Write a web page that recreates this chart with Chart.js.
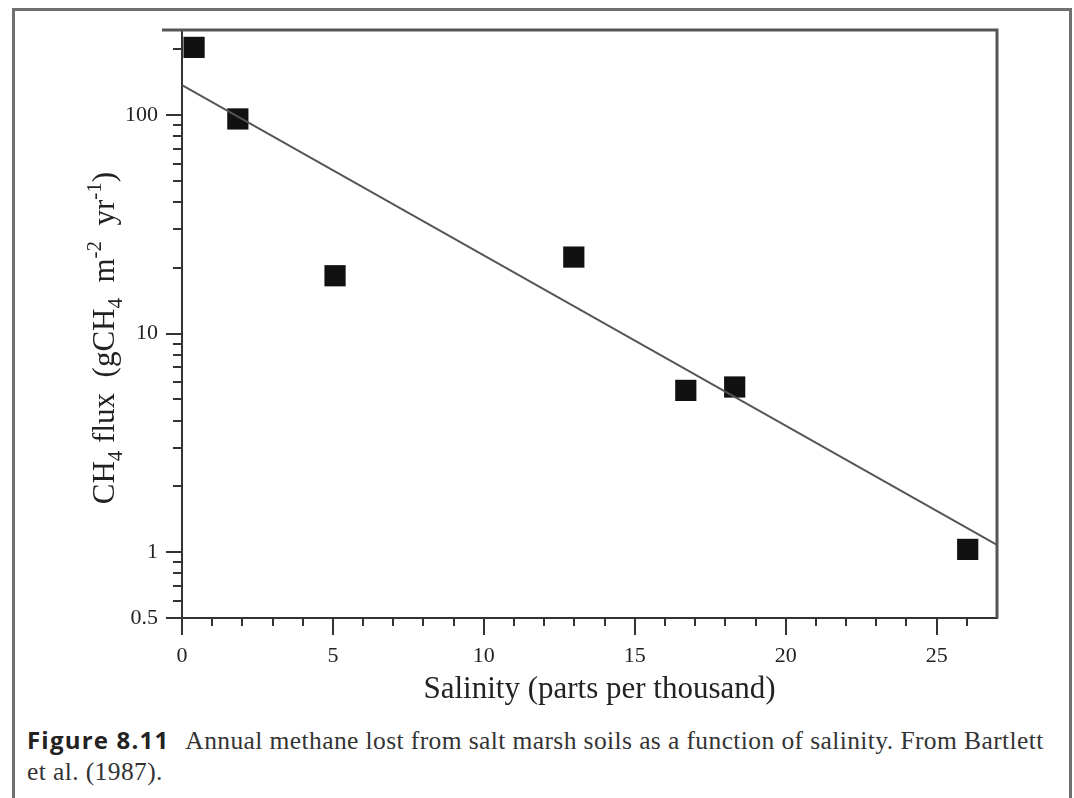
<!DOCTYPE html>
<html>
<head>
<meta charset="utf-8">
<script src="https://cdn.jsdelivr.net/npm/chart.js@4"></script>
<style>
  body { margin: 0; background: #fff; }
  #frame {
    position: absolute; left: 12px; top: 8px; width: 1054px; height: 830px;
    border: 3px solid #707070;
  }
  #wrap { position: absolute; left: 0; top: 0; width: 1074px; height: 718px; }
  #caption {
    position: absolute; left: 27px; top: 724px; width: 1040px;
    font-family: "Liberation Serif", serif; font-size: 25.5px; letter-spacing: 0.4px; line-height: 31px; color: #333;
  }
  #caption b { font-family: "Open Sans", sans-serif; font-weight: 700; font-size: 24px; letter-spacing: 1.2px; color: #222; margin-right: 16px; }
</style>
</head>
<body>
<div id="frame"></div>
<div id="wrap"><canvas id="chart"></canvas></div>
<div id="caption"><b>Figure 8.11</b>Annual methane lost from salt marsh soils as a function of salinity. From Bartlett et al. (1987).</div>
<script>
// salinity (ppt) and methane flux
const salinity = [0.4, 1.85, 5.07, 12.98, 16.69, 18.31, 26.03];
const ch4Flux = [204, 96, 18.4, 22.4, 5.5, 5.7, 1.03];

// regression line end points
const fitX = [0, 27];
const fitY = [137, 1.08];

const xMajorTicks = [0, 5, 10, 15, 20, 25];
const yMajorTicks = [0.5, 1, 10, 100];
const xMinorTicks = [1, 2, 3, 4, 6, 7, 8, 9, 11, 12, 13, 14, 16, 17, 18, 19, 21, 22, 23, 24, 26];
const yMinorTicks = [0.6, 0.7, 0.8, 0.9, 2, 3, 4, 5, 6, 7, 8, 9, 20, 30, 40, 50, 60, 70, 80, 90, 200];

const xTitle = "Salinity (parts per thousand)";
// y title pieces: [text, 0 normal / 1 subscript / -1 superscript]
const yTitle = [["CH", 0], ["4", 1], [" flux  (gCH", 0], ["4", 1], ["  m", 0], ["-2", -1], ["  yr", 0], ["-1", -1], [")", 0]];

const AXIS = "#333";
const SERIF = "Liberation Serif";

// small ticks, top/right frame and the axis titles
const extras = {
  id: "extras",
  afterDraw(chart) {
    const ctx = chart.ctx;
    const area = chart.chartArea;
    const xs = chart.scales.x, ys = chart.scales.y;
    ctx.save();
    ctx.strokeStyle = AXIS;
    ctx.lineWidth = 2;
    ctx.beginPath();
    xMinorTicks.forEach(v => {
      const px = Math.round(xs.getPixelForValue(v));
      ctx.moveTo(px, area.bottom - 1);
      ctx.lineTo(px, area.bottom + 8);
    });
    yMinorTicks.forEach(v => {
      const py = Math.round(ys.getPixelForValue(v));
      ctx.moveTo(area.left + 1, py);
      ctx.lineTo(area.left - 9, py);
    });
    ctx.stroke();
    ctx.strokeStyle = "#555";
    ctx.lineWidth = 3;
    ctx.beginPath();
    ctx.moveTo(area.left - 20, area.top);
    ctx.lineTo(area.right, area.top);
    ctx.lineTo(area.right, area.bottom);
    ctx.stroke();

    ctx.fillStyle = "#222";
    ctx.textBaseline = "middle";
    ctx.textAlign = "center";
    ctx.font = "31px " + SERIF;
    ctx.fillText(xTitle, (area.left + area.right) / 2 + 10, area.bottom + 72);

    // rotated y title
    ctx.textAlign = "left";
    const big = "31px " + SERIF, small = "21px " + SERIF;
    let total = 0;
    yTitle.forEach(([t, k]) => { ctx.font = k ? small : big; total += ctx.measureText(t).width; });
    ctx.translate(106, (area.top + area.bottom) / 2 + 14);
    ctx.rotate(-Math.PI / 2);
    let pos = -total / 2;
    yTitle.forEach(([t, k]) => {
      ctx.font = k ? small : big;
      ctx.fillText(t, pos, k === 1 ? 10 : k === -1 ? -11 : 0);
      pos += ctx.measureText(t).width;
    });
    ctx.restore();
  }
};

new Chart(document.getElementById("chart"), {
  type: "scatter",
  data: {
    datasets: [
      {
        label: "fit",
        data: fitX.map((x, i) => ({ x: x, y: fitY[i] })),
        showLine: true,
        borderColor: "#555",
        borderWidth: 2,
        pointRadius: 0
      },
      {
        label: "CH4 flux",
        data: salinity.map((x, i) => ({ x: x, y: ch4Flux[i] })),
        pointStyle: "rect",
        pointRadius: 15,
        pointHoverRadius: 15,
        backgroundColor: "#111",
        borderColor: "#111",
        borderWidth: 0
      }
    ]
  },
  options: {
    responsive: true,
    maintainAspectRatio: false,
    animation: false,
    layout: { padding: { left: 86, top: 30, right: 77, bottom: 8 } },
    plugins: { legend: { display: false }, tooltip: { enabled: false } },
    scales: {
      x: {
        type: "linear",
        min: 0,
        max: 27,
        afterBuildTicks: s => { s.ticks = xMajorTicks.map(v => ({ value: v })); },
        afterFit: s => { s.height = 92; },
        grid: { drawOnChartArea: false, tickLength: 17, color: AXIS, lineWidth: 2 },
        border: { color: AXIS, width: 2 },
        ticks: { font: { family: SERIF, size: 22 }, color: "#222", padding: 8, maxRotation: 0 }
      },
      y: {
        type: "logarithmic",
        min: 0.5,
        max: 245,
        afterBuildTicks: s => { s.ticks = yMajorTicks.map(v => ({ value: v })); },
        afterFit: s => { s.width = 96; },
        grid: { drawOnChartArea: false, tickLength: 16, color: AXIS, lineWidth: 2 },
        border: { color: AXIS, width: 2 },
        ticks: {
          font: { family: SERIF, size: 22 },
          color: "#222",
          padding: 8,
          callback: v => String(v)
        }
      }
    }
  },
  plugins: [extras]
});
</script>
</body>
</html>
